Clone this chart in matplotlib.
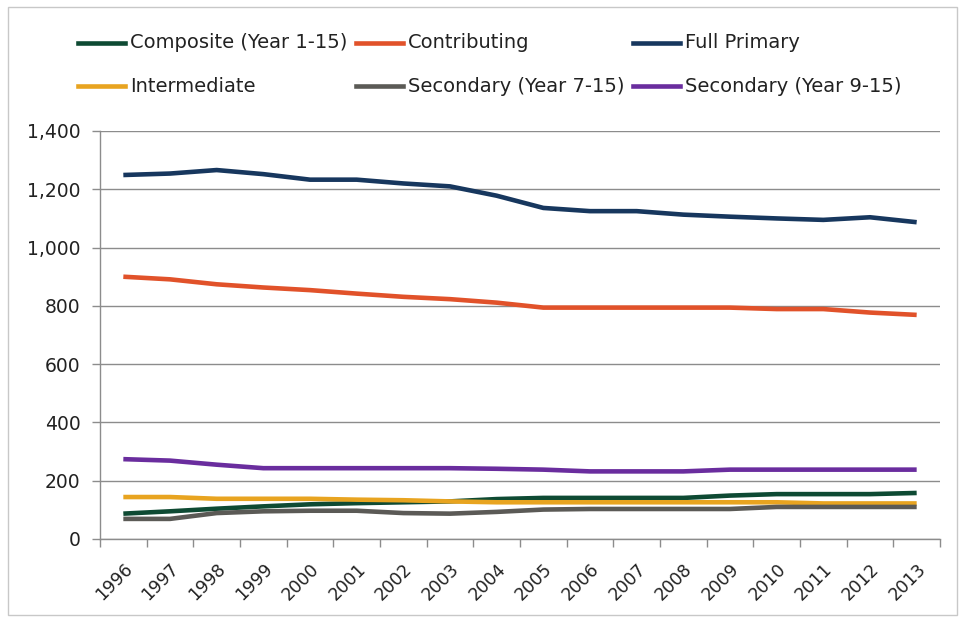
import matplotlib
matplotlib.use("Agg")
import matplotlib.pyplot as plt
from matplotlib.lines import Line2D
from matplotlib.patches import Rectangle
from matplotlib.ticker import FuncFormatter, FixedLocator

years = [str(y) for y in range(1996, 2014)]

composite = [87, 95, 104, 112, 119, 123, 126, 129, 137, 141, 141, 141, 141, 149, 154, 154, 154, 158]
contributing = [900, 891, 874, 863, 854, 842, 831, 823, 811, 794, 794, 794, 794, 794, 789, 789, 777, 769]
full_primary = [1249, 1254, 1266, 1252, 1233, 1233, 1220, 1210, 1178, 1136, 1125, 1125, 1113, 1106, 1100, 1095, 1104, 1087]
intermediate = [144, 144, 138, 138, 138, 135, 133, 129, 126, 126, 126, 126, 126, 126, 126, 122, 122, 122]
secondary_7_15 = [69, 69, 89, 95, 97, 97, 89, 87, 93, 101, 103, 103, 103, 103, 110, 110, 110, 110]
secondary_9_15 = [274, 269, 255, 243, 243, 243, 243, 243, 241, 238, 232, 232, 232, 238, 238, 238, 238, 238]

series_names = ["Composite (Year 1-15)", "Contributing", "Full Primary",
                "Intermediate", "Secondary (Year 7-15)", "Secondary (Year 9-15)"]
series_values = [composite, contributing, full_primary,
                 intermediate, secondary_7_15, secondary_9_15]
series_colors = ["#0e4a33", "#e1522a", "#17375e", "#e8a420", "#5b5a56", "#6a2d9e"]

y_ticks = [0, 200, 400, 600, 800, 1000, 1200, 1400]

W, H = 961, 623
fig = plt.figure(figsize=(W / 100, H / 100), dpi=100)
fig.patch.set_facecolor("white")

# thin frame around the whole chart
fig.patches.append(Rectangle((8 / W, 8 / H), 949 / W, 608 / H, transform=fig.transFigure,
                             fill=False, edgecolor="#c8c8c8", linewidth=1.0))

ax = fig.add_axes([100 / W, 1 - 539 / H, 840 / W, 408 / H])
x = list(range(len(years)))
for name, vals, col in zip(series_names, series_values, series_colors):
    ax.plot(x, vals, color=col, linewidth=3.3, solid_joinstyle="round",
            solid_capstyle="butt", label=name, zorder=3)

ax.set_xlim(-0.5, len(years) - 0.5)
ax.set_ylim(0, 1400)
ax.set_yticks(y_ticks)
ax.yaxis.set_major_formatter(FuncFormatter(lambda v, p: f"{int(v):,}"))
ax.grid(axis="y", color="#8c8c8c", linewidth=1.0, zorder=1)
ax.set_axisbelow(True)

ax.set_xticks(x)
ax.set_xticklabels(years, rotation=45, ha="right", rotation_mode="anchor")
ax.xaxis.set_minor_locator(FixedLocator([i - 0.5 for i in range(len(years) + 1)]))
ax.tick_params(axis="x", which="major", length=0, pad=15, labelsize=12.5, colors="#222222")
ax.tick_params(axis="x", which="minor", length=6, color="#8c8c8c", width=1.0)
ax.tick_params(axis="y", which="major", length=6, color="#8c8c8c", width=1.0,
               labelsize=13.5, labelcolor="#222222", pad=8)

for side in ("top", "right"):
    ax.spines[side].set_visible(False)
for side in ("left", "bottom"):
    ax.spines[side].set_color("#8c8c8c")
    ax.spines[side].set_linewidth(1.0)

# legend laid out in a fixed three-column grid
col_x = [78, 356, 633]
row_y = [43, 86]
for i, (name, col) in enumerate(zip(series_names, series_colors)):
    cx = col_x[i % 3]
    cy = row_y[i // 3]
    fig.lines.append(Line2D([cx / W, (cx + 47) / W], [1 - cy / H, 1 - cy / H],
                            transform=fig.transFigure, color=col, linewidth=3.3))
    fig.text((cx + 52) / W, 1 - cy / H, name, fontsize=14, color="#222222",
             ha="left", va="center")

fig.savefig("out.png", dpi=100)
